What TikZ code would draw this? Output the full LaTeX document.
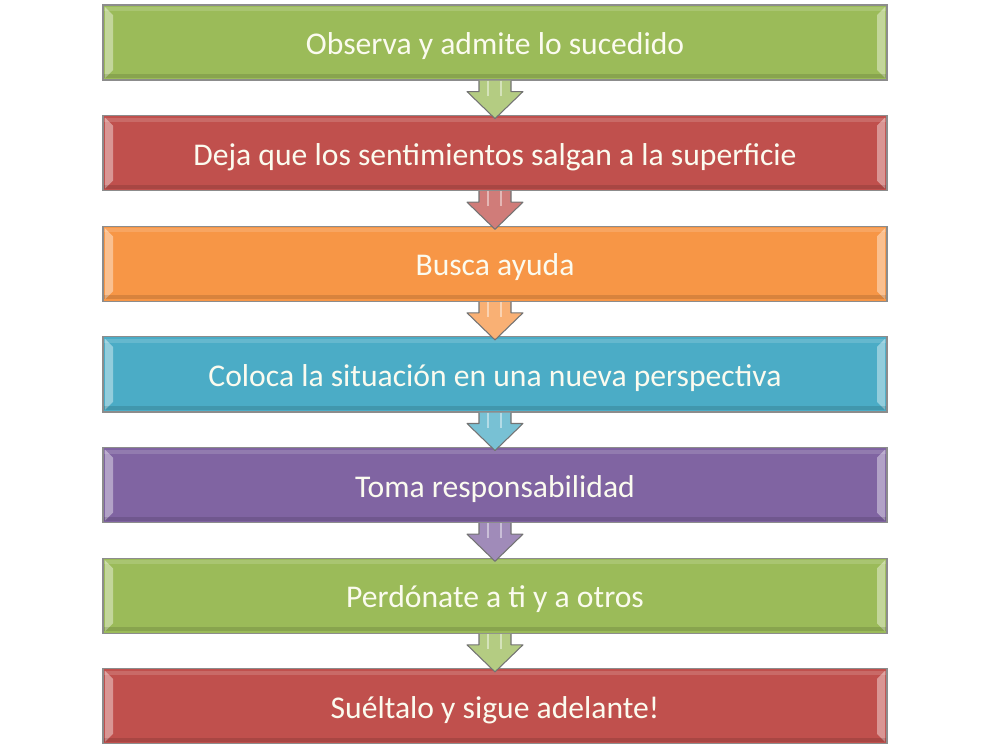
\documentclass[tikz,border=0pt]{standalone}
\usepackage{fontspec}
\setmainfont{Carlito}
\usetikzlibrary{calc,positioning}
\definecolor{verde}{HTML}{9BBB59}
\definecolor{rojo}{HTML}{C0504D}
\definecolor{naranja}{HTML}{F79646}
\definecolor{azul}{HTML}{4BACC6}
\definecolor{morado}{HTML}{8064A2}
\definecolor{crema}{HTML}{FBFBEF}
\def\flecha(#1)(#2)#3{%
	\draw[fill=#3!75!white, draw=black!55, line width=0.6pt, line join=round]
		($(#1.south)+(-0.32,0)$) -- ($(#1.south)+(-0.32,-0.22)$) -- ($(#1.south)+(-0.56,-0.22)$)
		-- ($(#2.north)+(0,-0.07)$)
		-- ($(#1.south)+(0.56,-0.22)$) -- ($(#1.south)+(0.32,-0.22)$) -- ($(#1.south)+(0.32,0)$);
	\draw[white, opacity=0.45, line width=1.4pt] ($(#1.south)+(-0.14,0)$) -- ($(#1.south)+(-0.14,-0.3)$);
	\draw[white, opacity=0.45, line width=1.4pt] ($(#1.south)+(0.12,0)$) -- ($(#1.south)+(0.12,-0.3)$);
}

\tikzset{
	stepbox/.style={draw=black!45, line width=0.6pt, fill=#1, text=crema,
		minimum width=15.68cm, minimum height=1.5cm, inner sep=0pt,
		text height=13.8pt, text depth=0pt,
		font=\fontsize{18}{20}\selectfont,
		path picture={
			\fill[white, opacity=0.4] ([xshift=0.04cm,yshift=-0.04cm]path picture bounding box.north west)
				-- ++(0.16,-0.16) -- ([xshift=0.2cm,yshift=0.2cm]path picture bounding box.south west)
				-- ([xshift=0.04cm,yshift=0.04cm]path picture bounding box.south west) -- cycle;
			\fill[white, opacity=0.4] ([xshift=-0.04cm,yshift=-0.04cm]path picture bounding box.north east)
				-- ++(-0.16,-0.16) -- ([xshift=-0.2cm,yshift=0.2cm]path picture bounding box.south east)
				-- ([xshift=-0.04cm,yshift=0.04cm]path picture bounding box.south east) -- cycle;
			\fill[white, opacity=0.15] ([yshift=-0.04cm]path picture bounding box.north west) rectangle ([yshift=-0.12cm]path picture bounding box.north east);
			\fill[black, opacity=0.12] ([yshift=0.04cm]path picture bounding box.south west) rectangle ([yshift=0.12cm]path picture bounding box.south east);
		}},
	node distance=0.692cm
}

\begin{document}
\begin{tikzpicture}
	%%%%% START %%%%%
	\useasboundingbox (0,0) rectangle (20,-15);

	\node[stepbox=verde] (observa) at (9.9,-0.85) {Observa y admite lo sucedido};
	\node[stepbox=rojo, below=of observa] (deja) {Deja que los sentimientos salgan a la superficie};
	\node[stepbox=naranja, below=of deja] (busca) {Busca ayuda};
	\node[stepbox=azul, below=of busca] (coloca) {Coloca la situación en una nueva perspectiva};
	\node[stepbox=morado, below=of coloca] (toma) {Toma responsabilidad};
	\node[stepbox=verde, below=of toma] (perdona) {Perdónate a ti y a otros};
	\node[stepbox=rojo, below=of perdona] (suelta) {Suéltalo y sigue adelante!};

	\flecha(observa)(deja){verde}
	\flecha(deja)(busca){rojo}
	\flecha(busca)(coloca){naranja}
	\flecha(coloca)(toma){azul}
	\flecha(toma)(perdona){morado}
	\flecha(perdona)(suelta){verde}

	%%%%% END %%%%%
\end{tikzpicture}
\end{document}
